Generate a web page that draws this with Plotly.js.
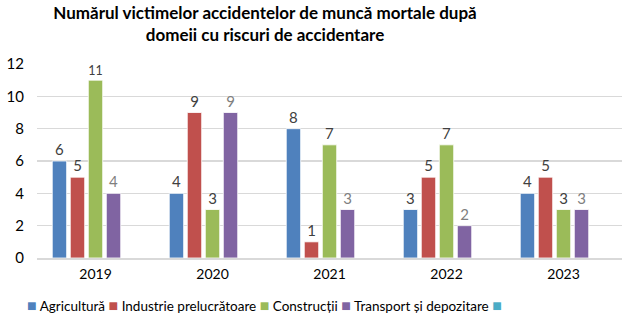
<!DOCTYPE html>
<html><head><meta charset="utf-8">
<script src="https://cdn.plot.ly/plotly-3.0.1.min.js"></script>
<style>html,body{margin:0;padding:0;background:#fff}#c{width:631px;height:324px}</style>
</head><body><div id="c"></div>
<script>
const years = ['2019','2020','2021','2022','2023'];
const agricultura = [6,4,8,3,4];
const industrie = [5,9,1,5,5];
const constructii = [11,3,7,7,3];
const transport = [4,9,3,2,3];
const extra = [null,null,null,null,null];
const names = ['Agricultură','Industrie prelucrătoare','Construcții','Transport și depozitare',''];
const colors = ['#4f81bd','#c0504d','#9bbb59','#8064a2','#4bacc6'];
const labelColors = ['#404040','#404040','#404040','#7f7f7f','#404040'];
const series = [agricultura, industrie, constructii, transport, extra];

const traces = series.map((v,i)=>({
  type:'bar', x:years, y:v, name:names[i], showlegend:false,
  marker:{color:colors[i], line:{color:'rgba(255,255,255,0.8)', width:1}},
  text: v.map(d=>d==null?'':String(d)), textposition:'outside',
  textfont:{family:'Lato, sans-serif', size:15, color:labelColors[i]},
  cliponaxis:false, hoverinfo:'none'
}));

const legendText = names.map((n,i)=>'<span style="color:'+colors[i]+';font-size:16px">■</span>'+(n?' '+n:'')).join(' ');

const layout = {
  width:631, height:324,
  margin:{l:37, r:9, t:64, b:66},
  paper_bgcolor:'#fff', plot_bgcolor:'#fff',
  title:{text:'<b>Numărul victimelor accidentelor de muncă mortale după<br>domeii cu riscuri de accidentare</b>',
    font:{family:'Lato, sans-serif', size:17, color:'#000'}, x:0.42, xanchor:'center', y:0.941, yanchor:'top'},
  barmode:'group', bargap:0.23, bargroupgap:0.2,
  xaxis:{showgrid:false, showline:true, linecolor:'#d9d9d9', linewidth:1.5, ticks:'',
    tickfont:{family:'Lato, sans-serif', size:14, color:'#000'}, ticklabelstandoff:3},
  yaxis:{range:[0,12], dtick:2, showgrid:true, gridcolor:'#d9d9d9', gridwidth:1.5, zeroline:false, showline:false,
    tickfont:{family:'Lato, sans-serif', size:15, color:'#000'}, ticklabelstandoff:12},
  showlegend:false,
  annotations:[{xref:'paper', yref:'paper', x:-0.0205, xanchor:'left', y:-0.242, yanchor:'middle',
    text:legendText, showarrow:false, font:{family:'Lato, sans-serif', size:13.5, color:'#000'}}]
};
Plotly.newPlot('c', traces, layout, {displayModeBar:false, staticPlot:true});
</script></body></html>
